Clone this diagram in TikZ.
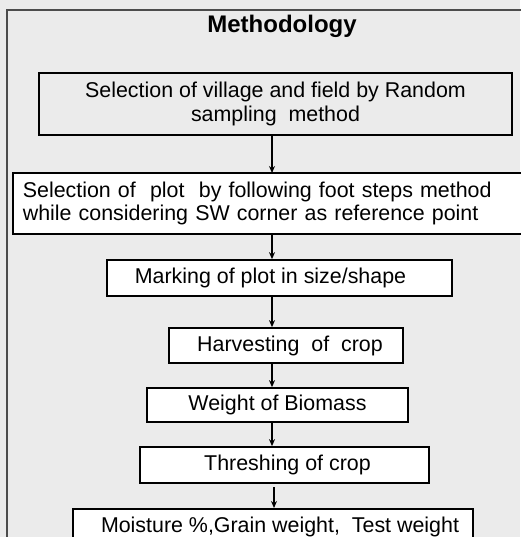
\documentclass[tikz,border=0pt]{standalone}
\usepackage{fontspec}
\setmainfont{Liberation Sans}
\usetikzlibrary{arrows.meta}
\definecolor{bggray}{HTML}{EBEBEB}
\tikzset{
  x=1pt,y=1pt,
  stepbox/.style={draw=black,line width=1.7pt,fill=white,inner sep=0pt,font=\fontsize{21.4}{23.5}\selectfont,align=center},
  conn/.style={line width=1.3pt,-{Stealth[length=7pt,width=6pt]}},
}
\begin{document}
\begin{tikzpicture}
\useasboundingbox (0,0) rectangle (520,-537);
\fill[bggray] (0,0) rectangle (520,-537);
\draw[line width=1.2pt,draw=black!70] (7,-560) -- (7,-10) -- (540,-10);
\node[font=\bfseries\fontsize{24}{28}\selectfont] (title) at (282,-26) {Methodology};
\node[stepbox,fill=bggray,minimum width=473pt,minimum height=62pt] (b1) at (275.5,-104) {Selection of village and field by Random\\sampling\ \ method};
\node[stepbox,anchor=west,minimum width=518pt,minimum height=61pt,text width=498pt,inner xsep=10pt,align=left] (b2) at (12,-203.5) {Selection of\ \ plot\ \ by following foot steps method\\while considering SW corner as reference point};
\node[stepbox,minimum width=345pt,minimum height=36pt] (b3) at (279.5,-278) {Marking of plot in size/shape\hspace{18pt}};
\node[stepbox,minimum width=234pt,minimum height=35pt] (b4) at (286,-345.5) {\hspace{8pt}Harvesting\ \ of\ \ crop};
\node[stepbox,minimum width=261pt,minimum height=34pt] (b5) at (277.5,-405) {Weight of Biomass};
\node[stepbox,minimum width=289pt,minimum height=36pt] (b6) at (284.5,-465) {\hspace{6pt}Threshing of crop};
\node[stepbox,minimum width=400pt,minimum height=36pt,anchor=north] (b7) at (273,-508) {\hspace{14pt}Moisture \%,Grain weight,\ \ Test weight};
\draw[conn] (272,-135) -- (272,-173);
\draw[conn] (b2.south -| 272,0) -- (b3.north -| 272,0);
\draw[conn] (b3.south -| 272,0) -- (b4.north -| 272,0);
\draw[conn] (b4.south -| 272,0) -- (b5.north -| 272,0);
\draw[conn] (b5.south -| 272,0) -- (b6.north -| 272,0);
\draw[conn] (274,-487) -- (b7.north -| 274,0);
\end{tikzpicture}
\end{document}
